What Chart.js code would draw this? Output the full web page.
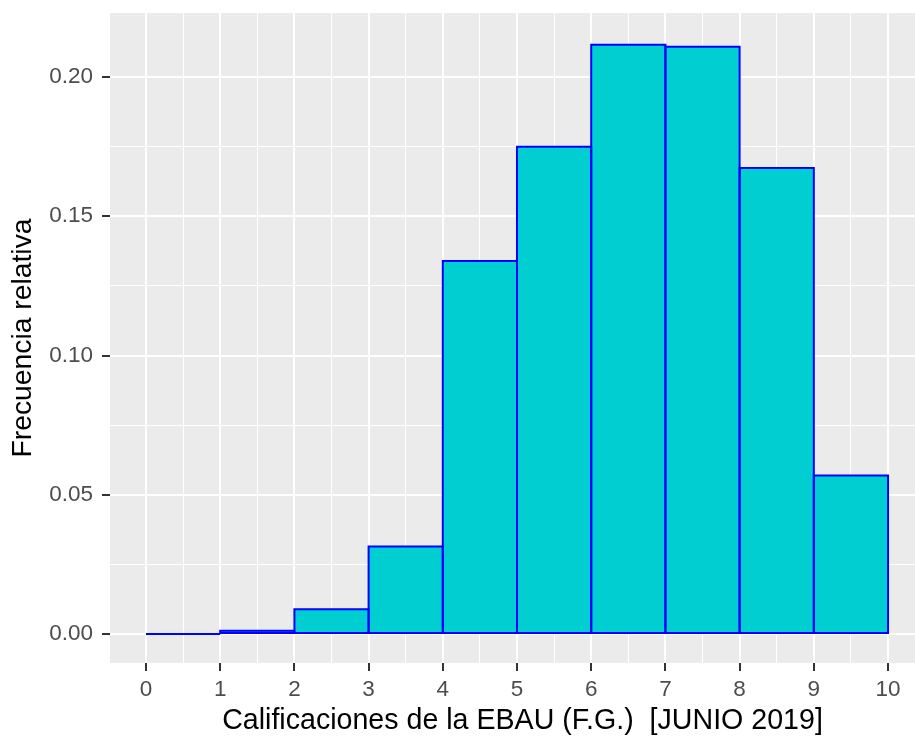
<!DOCTYPE html>
<html>
<head>
<meta charset="utf-8">
<script src="https://cdn.jsdelivr.net/npm/chart.js@4"></script>
<style>
  html, body { margin: 0; padding: 0; background: #fff; overflow: hidden; }
  #wrap { width: 915px; height: 743px; overflow: hidden; }
  #box { width: 935px; height: 743px; }
</style>
</head>
<body>
<div id="wrap"><div id="box"><canvas id="hist"></canvas></div></div>
<script>
// bins of the histogram (grade intervals [a, a+1))
const binStarts = [0, 1, 2, 3, 4, 5, 6, 7, 8, 9];
const binWidth = 1;
// relative frequency per bin
const relFreq = [0, 0.0012, 0.0089, 0.0314, 0.1339, 0.1750, 0.2116, 0.2109, 0.1673, 0.0569];

const xTitle = 'Calificaciones de la EBAU (F.G.)  [JUNIO 2019]';
const yTitle = 'Frecuencia relativa';

const FONT = "'Liberation Sans', Arial, sans-serif";
const xStep = 0.5;   // minor grid step on x (major = 1)

// ggplot style: grey panel + outlined bars (border centred on the bar edge)
const panelAndOutline = {
  id: 'panelAndOutline',
  beforeDraw(chart) {
    const { ctx, chartArea: a } = chart;
    ctx.save();
    ctx.fillStyle = '#EBEBEB';
    ctx.fillRect(a.left, a.top, a.right - a.left, a.bottom - a.top);
    ctx.restore();
  },
  afterDatasetsDraw(chart) {
    const { ctx, chartArea: a } = chart;
    const meta = chart.getDatasetMeta(0);
    ctx.save();
    ctx.beginPath();
    ctx.rect(a.left, a.top, a.right - a.left, a.bottom - a.top);
    ctx.clip();
    ctx.strokeStyle = '#0000FF';
    ctx.lineWidth = 2;
    meta.data.forEach(bar => {
      const { x, y, base, width } = bar.getProps(['x', 'y', 'base', 'width'], true);
      ctx.beginPath();
      ctx.rect(x - width / 2, Math.min(y, base), width, Math.abs(base - y));
      ctx.stroke();
    });
    ctx.restore();
  }
};

const isMajor = (v, step) => Math.abs(v / step - Math.round(v / step)) < 1e-6;
const tickMajor = (c, step) => !!(c.tick && isMajor(c.tick.value, step));

new Chart(document.getElementById('hist'), {
  type: 'bar',
  data: {
    datasets: [{
      data: binStarts.map((b, i) => ({ x: b + binWidth / 2, y: relFreq[i] })),
      backgroundColor: '#00CED1',
      borderWidth: 0,
      inflateAmount: 0,
      barPercentage: 1,
      // chart.js measures bar room from the minor tick spacing, so a bin is 2 steps wide
      categoryPercentage: binWidth / xStep
    }]
  },
  options: {
    responsive: true,
    maintainAspectRatio: false,
    animation: false,
    layout: { padding: { top: 13, left: 0, right: 0, bottom: 0 } },
    plugins: {
      legend: { display: false },
      tooltip: { enabled: false }
    },
    scales: {
      x: {
        type: 'linear',
        offset: false,
        min: -0.485,
        max: 10.633,
        afterFit(s) { s.height = 80; s.paddingLeft = 0; s.paddingRight = 0; },
        border: { display: false },
        grid: {
          offset: false,
          color: '#FFFFFF',
          lineWidth: c => tickMajor(c, 1) ? 2 : 1,
          tickLength: 8,
          tickWidth: 2,
          tickColor: c => tickMajor(c, 1) ? '#333333' : 'rgba(0,0,0,0)'
        },
        ticks: {
          stepSize: xStep,
          autoSkip: false,
          includeBounds: false,
          maxRotation: 0,
          padding: 5,
          color: '#4D4D4D',
          font: { family: FONT, size: 22.5 },
          callback: v => isMajor(v, 1) ? String(v) : ''
        },
        title: {
          display: true,
          text: xTitle,
          color: '#000000',
          font: { family: FONT, size: 28.6 },
          padding: { top: 0, bottom: 5 }
        }
      },
      y: {
        min: -0.01041,
        max: 0.22298,
        afterFit(s) { s.width = 110; s.paddingTop = 0; s.paddingBottom = 0; },
        border: { display: false },
        grid: {
          color: '#FFFFFF',
          lineWidth: c => tickMajor(c, 0.05) ? 2 : 1,
          tickLength: 8,
          tickWidth: 2,
          tickColor: c => tickMajor(c, 0.05) ? '#333333' : 'rgba(0,0,0,0)'
        },
        ticks: {
          stepSize: 0.025,
          autoSkip: false,
          includeBounds: false,
          padding: 9,
          color: '#4D4D4D',
          font: { family: FONT, size: 22.5 },
          callback: v => isMajor(v, 0.05) ? v.toFixed(2) : ''
        },
        title: {
          display: true,
          text: yTitle,
          color: '#000000',
          font: { family: FONT, size: 28.3 },
          padding: { top: 6, bottom: 0 }
        }
      }
    }
  },
  plugins: [panelAndOutline]
});
</script>
</body>
</html>
